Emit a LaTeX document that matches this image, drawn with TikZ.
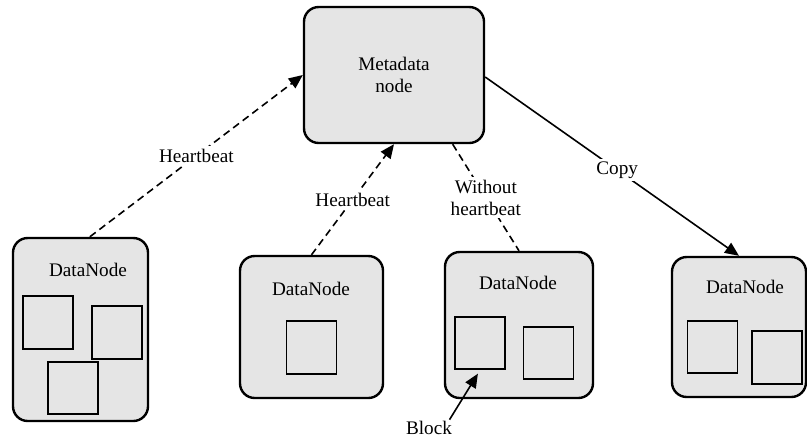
\documentclass[tikz,border=0pt]{standalone}
\usepackage{fontspec}
\setmainfont{Liberation Serif}
\usetikzlibrary{arrows.meta, positioning}

\begin{document}
\begin{tikzpicture}[x=0.75pt, y=-0.75pt,
    khoi/.style={draw, line width=1.8pt, fill=black!10, rounded corners=11pt},
    oblock/.style={draw, line width=1.4pt, minimum width=37.5pt, minimum height=39.5pt, inner sep=0pt},
    chu/.style={font=\fontsize{14.4}{16.5}\selectfont, align=center},
    nhan/.style={chu, fill=white, inner sep=2pt},
    timdut/.style={dash pattern=on 5.5pt off 3.5pt, line width=1.2pt},
    mui/.style={-{Triangle[length=10.5pt,width=9pt]}}
]
            \useasboundingbox (0,0) rectangle (807,437);

            % Nút metadata ở trên
            \node[khoi, chu, minimum width=135pt, minimum height=102pt] (meta) at (394,75) {Metadata\\node};

            % Các DataNode
            \node[khoi, minimum width=101.25pt, minimum height=137.25pt] (dn1) at (80.5,329.5) {};
            \node[khoi, minimum width=107.25pt, minimum height=106.5pt] (dn2) at (311.5,327) {};
            \node[khoi, minimum width=111pt, minimum height=109.5pt] (dn3) at (519,325) {};
            \node[khoi, minimum width=100.5pt, minimum height=105pt] (dn4) at (739,327) {};

            \node[chu] (dn1t) at (88,270) {DataNode};
            \node[chu] (dn2t) at (311,289) {DataNode};
            \node[chu] (dn3t) at (518,283) {DataNode};
            \node[chu] (dn4t) at (745,287) {DataNode};

            % Các block trong mỗi DataNode
            \node[oblock] (s11) at (48,322.5) {};
            \node[oblock] (s12) at (117,332.5) {};
            \node[oblock] (s13) at (73,388) {};
            \node[oblock] (s21) at (311.5,347.5) {};
            \node[oblock] (s31) at (480,343) {};
            \node[oblock] (s32) at (548.5,353) {};
            \node[oblock] (s41) at (712.5,347) {};
            \node[oblock] (s42) at (777,357.5) {};

            % Heartbeat gửi lên metadata
            \draw[timdut, mui] ([xshift=7pt]dn1.north) -- (meta.west) node[nhan, pos=0.5] {Heartbeat};
            \draw[timdut, mui] (dn2.north) -- (meta.south) node[nhan, pos=0.5] {Heartbeat};
            \draw[timdut] ([xshift=44pt]meta.south) -- (dn3.north) node[nhan, pos=0.5] {Without\\heartbeat};

            % Sao chép sang DataNode mới
            \draw[line width=1.2pt, mui] ([yshift=-1.5pt]meta.east) -- (dn4.north) node[nhan, pos=0.52] {Copy};

            % Chú thích block
            \node[chu, inner sep=1pt] (blocktxt) at (429,428) {Block};
            \draw[line width=1.2pt, mui, shorten >=3pt] ([xshift=-3pt]blocktxt.north east) -- (s31.south);

\end{tikzpicture}
\end{document}
